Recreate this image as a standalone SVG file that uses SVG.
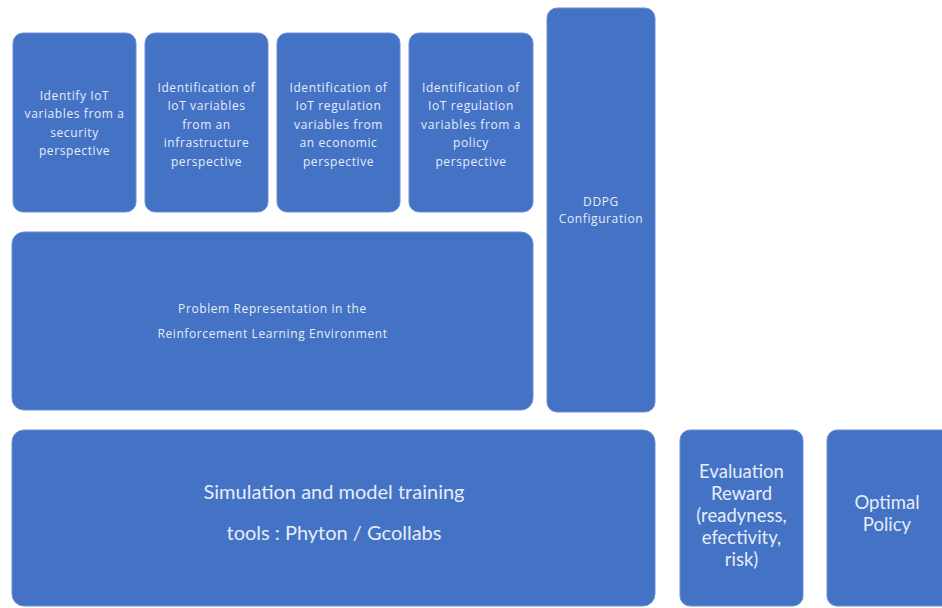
<svg xmlns="http://www.w3.org/2000/svg" width="942" height="608" viewBox="0 0 942 608">
<style>
.box{fill:#4472C4;stroke:#6b8fd3;stroke-width:1}
.s{font-family:"Open Sans",Lato,sans-serif;font-size:12px;letter-spacing:0.6px;fill:#e6edf9;text-anchor:middle}
.m{font-family:Lato,"Open Sans",sans-serif;font-size:20px;fill:#e6edf9;text-anchor:middle}
.e{font-family:Lato,"Open Sans",sans-serif;font-size:18.5px;fill:#e6edf9;text-anchor:middle}
</style>
<rect width="942" height="608" fill="#ffffff"/>
<g id="n1"><rect class="box" x="13" y="33" width="123" height="179" rx="10"/>
<text class="s" x="74.5" y="99.5">Identify IoT</text><text class="s" x="74.5" y="118">variables from a</text><text class="s" x="74.5" y="136.5">security</text><text class="s" x="74.5" y="155">perspective</text></g>
<g id="n2"><rect class="box" x="145" y="33" width="123" height="179" rx="10"/>
<text class="s" x="206.5" y="91.5">Identification of</text><text class="s" x="206.5" y="110">IoT variables</text><text class="s" x="206.5" y="128.5">from an</text><text class="s" x="206.5" y="147">infrastructure</text><text class="s" x="206.5" y="165.5">perspective</text></g>
<g id="n3"><rect class="box" x="277" y="33" width="123" height="179" rx="10"/>
<text class="s" x="338.5" y="91.5">Identification of</text><text class="s" x="338.5" y="110">IoT regulation</text><text class="s" x="338.5" y="128.5">variables from</text><text class="s" x="338.5" y="147">an economic</text><text class="s" x="338.5" y="165.5">perspective</text></g>
<g id="n4"><rect class="box" x="409" y="33" width="124" height="179" rx="10"/>
<text class="s" x="471" y="91.5">Identification of</text><text class="s" x="471" y="110">IoT regulation</text><text class="s" x="471" y="128.5">variables from a</text><text class="s" x="471" y="147">policy</text><text class="s" x="471" y="165.5">perspective</text></g>
<g id="n5"><rect class="box" x="547" y="8" width="108" height="404" rx="10"/>
<text class="s" x="601" y="205.5">DDPG</text><text class="s" x="601" y="222.5">Configuration</text></g>
<g id="n6"><rect class="box" x="12" y="232" width="521" height="178" rx="12"/>
<text class="s" x="272.5" y="313">Problem Representation in the</text><text class="s" x="272.5" y="337.5">Reinforcement Learning Environment</text></g>
<g id="n7"><rect class="box" x="12" y="430" width="643" height="176" rx="12"/>
<text class="m" x="334" y="499">Simulation and model training</text><text class="m" x="334" y="540">tools : Phyton / Gcollabs</text></g>
<g id="n8"><rect class="box" x="680" y="430" width="123" height="176" rx="10"/>
<text class="e" x="741.5" y="478">Evaluation</text><text class="e" x="741.5" y="500">Reward</text><text class="e" x="741.5" y="522">(readyness,</text><text class="e" x="741.5" y="544">efectivity,</text><text class="e" x="741.5" y="566">risk)</text></g>
<g id="n9"><rect class="box" x="827" y="430" width="125" height="176" rx="10"/>
<text class="e" x="887" y="509">Optimal</text><text class="e" x="887" y="531">Policy</text></g>
<g id="connectors"></g>
</svg>
